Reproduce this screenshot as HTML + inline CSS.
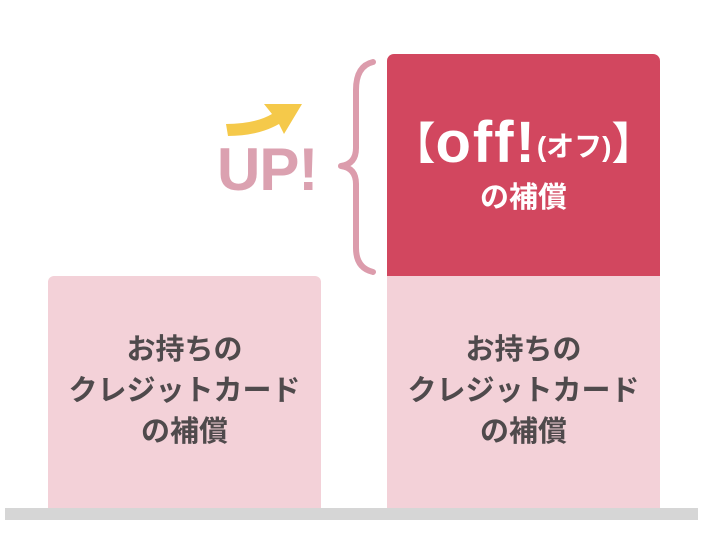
<!DOCTYPE html>
<html><head><meta charset="utf-8"><style>
html,body{margin:0;padding:0;background:#fff;width:702px;height:534px;overflow:hidden;position:relative;font-family:"Liberation Sans","Noto Sans CJK JP",sans-serif}
.a{position:absolute}
.box{background:#f3d1d8}
.t{position:absolute;left:0;right:0;text-align:center;color:#4f4a4c;font-weight:bold;font-size:29px;line-height:41px;white-space:nowrap}
</style></head><body>
<div class="a box" style="left:48px;top:276px;width:273px;height:234px;border-radius:6px 6px 0 0"></div>
<div class="a box" style="left:387px;top:276px;width:273px;height:234px"></div>
<div class="a" style="left:387px;top:54px;width:273px;height:222px;background:#d2475f;border-radius:7px 7px 0 0"></div>
<div class="a" style="left:5px;top:508px;width:693px;height:12px;background:#d6d6d6"></div>

<div class="a" style="left:48px;top:330px;width:273px;height:130px"><div class="t" style="top:0">お持ちの<br>クレジットカード<br>の補償</div></div>
<div class="a" style="left:387px;top:330px;width:273px;height:130px"><div class="t" style="top:0">お持ちの<br>クレジットカード<br>の補償</div></div>

<div class="a" style="left:387px;top:108px;width:273px;text-align:center;color:#fff;font-weight:bold;white-space:nowrap;line-height:70px">
<span style="font-size:44px;vertical-align:3px">【</span><span style="font-size:58px;letter-spacing:2px">off!</span><span style="font-size:28px;vertical-align:6px">(オフ)</span><span style="font-size:44px;vertical-align:3px">】</span>
</div>
<div class="a" style="left:387px;top:178px;width:273px;text-align:center;color:#fff;font-weight:bold;font-size:29px;line-height:40px">の補償</div>

<div class="a" style="left:217px;top:137px;font-size:60px;font-weight:bold;color:#dba1b0;letter-spacing:-1px;line-height:66px">UP!</div>

<svg class="a" style="left:0;top:0" width="702" height="534">
<path d="M373 62 Q356 66 356 90 L356 148 Q356 164 341 166 Q356 168 356 184 L356 248 Q356 268 373 272" fill="none" stroke="#dc9cac" stroke-width="6" stroke-linecap="round" stroke-linejoin="round"/>
<path d="M226 124 Q255 124 272 114 L264 104 L302 104 L284 134 L279 124 Q258 136 228 136 Z" fill="#f5c94a"/>
</svg>
</body></html>
